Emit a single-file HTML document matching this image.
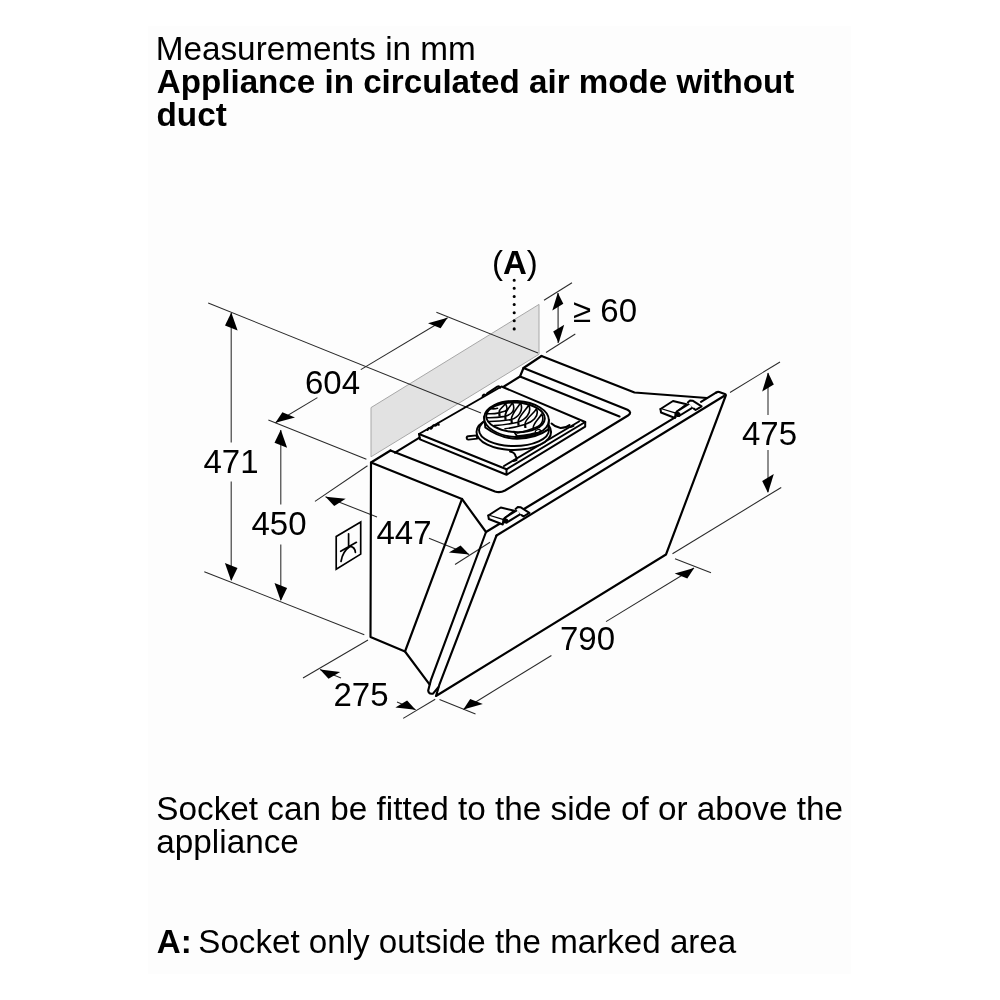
<!DOCTYPE html>
<html><head><meta charset="utf-8"><title>Measurements</title>
<style>
html,body{margin:0;padding:0;background:#fff;}
body{width:1000px;height:1000px;overflow:hidden;font-family:"Liberation Sans",sans-serif;}
svg{display:block;position:absolute;left:0;top:0;}
text{font-family:"Liberation Sans",sans-serif;fill:#000;}
.h{font-size:33.3px;}
.d{font-size:33px;}
.b{font-weight:bold;}
.t{stroke:#2a2a2a;stroke-width:1.05;fill:none;}
.t2{stroke:#444;stroke-width:1.3;fill:none;}
path.b{stroke:#000;stroke-width:2.15;fill:none;stroke-linejoin:round;stroke-linecap:round;}
.m{stroke:#000;stroke-width:2;fill:none;stroke-linejoin:round;stroke-linecap:round;}
.f{stroke:#000;stroke-width:1.95;fill:none;stroke-linejoin:round;stroke-linecap:round;}
.w{fill:#fdfdfd !important;}
.g{stroke:#000;stroke-width:1.6;fill:none;stroke-linecap:round;}
.s{stroke:#000;stroke-width:1.7;fill:none;stroke-linejoin:miter;stroke-linecap:round;}
</style></head><body>
<svg width="1000" height="1000" viewBox="0 0 1000 1000">
<defs><filter id="idf" x="0" y="0" width="1000" height="1000" filterUnits="userSpaceOnUse"><feOffset dx="0" dy="0"/></filter></defs>
<rect x="0" y="0" width="1000" height="1000" fill="#fff"/>
<rect x="148" y="26" width="703" height="948" fill="#fdfdfd"/>
<polygon points="371,407.6 539,304.4 539,354.3 371,456.8" fill="#e2e2e2" stroke="#a8a8a8" stroke-width="1"/>
<line class="t" x1="208.2" y1="303.0" x2="481.0" y2="413.0"/>
<line class="t" x1="231.2" y1="313.0" x2="231.2" y2="442.5"/>
<line class="t" x1="231.2" y1="481.5" x2="231.2" y2="580.0"/>
<polygon points="231.3,312.5 237.6,330.5 225.0,325.5" fill="#000"/>
<polygon points="231.2,581.0 237.5,568.0 224.9,563.0" fill="#000"/>
<line class="t" x1="204.3" y1="571.7" x2="364.3" y2="634.7"/>
<line class="t" x1="268.4" y1="420.0" x2="366.4" y2="459.2"/>
<line class="t" x1="280.8" y1="430.0" x2="280.8" y2="504.5"/>
<line class="t" x1="280.8" y1="544.5" x2="280.8" y2="600.0"/>
<polygon points="280.8,429.8 287.1,447.8 274.5,442.8" fill="#000"/>
<polygon points="280.8,601.0 287.1,588.0 274.5,583.0" fill="#000"/>
<line class="t" x1="436.4" y1="312.2" x2="538.0" y2="353.0"/>
<line class="t" x1="447.6" y1="317.8" x2="360.8" y2="369.6"/>
<line class="t" x1="317.4" y1="397.6" x2="275.4" y2="422.8"/>
<polygon points="447.6,317.8 440.6,328.3 428.0,323.2" fill="#000"/>
<polygon points="275.4,422.8 295.0,417.4 282.4,412.3" fill="#000"/>
<line class="t" x1="544.0" y1="300.3" x2="572.0" y2="282.7"/>
<line class="t" x1="546.0" y1="352.5" x2="575.3" y2="334.0"/>
<line class="t2" x1="558.1" y1="293.0" x2="558.1" y2="343.0"/>
<polygon points="557.8,292.8 563.3,303.8 552.3,310.4" fill="#000"/>
<polygon points="558.7,343.0 564.2,324.8 553.2,331.4" fill="#000"/>
<line class="t" x1="730.0" y1="392.5" x2="780.0" y2="362.0"/>
<line class="t" x1="672.5" y1="553.7" x2="781.2" y2="487.5"/>
<line class="t" x1="768.0" y1="373.0" x2="768.0" y2="415.0"/>
<line class="t" x1="768.0" y1="450.0" x2="768.0" y2="492.0"/>
<polygon points="768.0,372.5 773.8,384.5 762.2,391.5" fill="#000"/>
<polygon points="768.0,493.0 773.8,474.0 762.2,481.0" fill="#000"/>
<line class="t" x1="439.5" y1="699.5" x2="475.5" y2="714.0"/>
<line class="t" x1="675.0" y1="558.7" x2="711.0" y2="572.8"/>
<line class="t" x1="463.5" y1="709.5" x2="551.4" y2="655.5"/>
<line class="t" x1="606.0" y1="621.6" x2="694.0" y2="568.0"/>
<polygon points="463.3,709.6 482.8,704.0 470.2,699.0" fill="#000"/>
<polygon points="694.2,568.0 687.3,578.6 674.7,573.6" fill="#000"/>
<line class="t" x1="303.0" y1="678.0" x2="368.0" y2="640.0"/>
<line class="t" x1="403.2" y1="718.4" x2="435.2" y2="699.2"/>
<line class="t" x1="320.0" y1="669.6" x2="341.0" y2="678.0"/>
<line class="t" x1="397.0" y1="702.0" x2="415.6" y2="709.8"/>
<polygon points="320.0,669.6 340.2,671.9 328.5,678.8" fill="#000"/>
<polygon points="415.6,709.8 407.1,700.6 395.4,707.5" fill="#000"/>
<line class="t" x1="315.0" y1="501.4" x2="367.5" y2="465.7"/>
<line class="t" x1="455.0" y1="564.5" x2="490.0" y2="542.3"/>
<line class="t" x1="325.5" y1="496.8" x2="377.0" y2="517.0"/>
<line class="t" x1="429.0" y1="538.3" x2="469.2" y2="554.6"/>
<polygon points="325.5,496.8 345.7,498.8 334.2,506.1" fill="#000"/>
<polygon points="469.2,554.6 460.6,545.5 448.9,552.5" fill="#000"/>
<path class="b" d="M390.5,450.5 L371,462.5 L370.5,637 L405,651.5 L429.5,684.4"/>
<path class="b" d="M371,462.5 L462,499 L405,651.5"/>
<path class="b" d="M462,499 L486,532"/>
<path class="b" d="M486,532 L430.8,680.4 L428.2,690.5 Q428.4,693.6 431.5,693.8 L433,693.6 L438.2,687.5"/>
<path class="b" d="M496.5,535.5 L439.2,685.2 L436,696 L666,554.5 L725.6,396 Q726.4,394.6 724.8,394 L719.2,392 Q717.6,391.6 716,392.6"/>
<path class="b" d="M486,532 L500,523.5 M524,509 L675.5,417.2 M701,401.8 L716,392.6"/>
<path class="b" d="M496.5,535.5 L724,396"/>
<path class="b" d="M541.5,356 L634.5,392.5 L707,398"/>
<path class="b" d="M390.5,450.5 L495,491.5 Q500,493.2 505,490.5 L628,415.5 Q632.5,412.5 627.5,409.7 L523.5,368"/>
<path class="b" d="M395,452.6 L419.5,437.6"/>
<path class="b" d="M541.5,356 L523.5,368 L520,376.5 L504,386.5"/>
<path class="b" d="M520,376.5 L619.5,416.5"/>
<path class="m" d="M419,434 L501.5,386.5 L585.2,422 L506.5,469.3 Z"/>
<path class="m" d="M419,434 L420,439.4 L506.5,474.8 L585.2,426.6 L585.2,422 M506.5,469.3 L506.5,474.8"/>
<path class="f" d="M504,466 L579,421.5"/>
<path class="f" d="M513.5,461 L516.5,460 M570.5,427 L573.5,425.8"/>
<path class="f" d="M510,451.5 Q515,452.5 515.5,456 L517,458.5"/>
<path class="f" d="M551.5,423.5 Q555,427 560.5,428 Q566,428 569.5,425"/>
<path class="m" d="M427.6,430 q0.8,-2.6 2.4,-1.6 q1.2,1.2 2.4,-1.4 q0.8,-2.4 2.4,-1.4 q1.2,0.8 3.4,-2.4 l0.6,1.6"/>
<path class="m" d="M482.6,396.4 q0.8,-2.6 2.2,-1.6 q1.2,1 2.4,-1.4 L497.4,386.6 q1.8,-0.8 2.8,1.2"/>
<ellipse class="f w" cx="513.8" cy="432" rx="37.3" ry="18"/>
<ellipse class="f" cx="514" cy="430" rx="35" ry="16"/>
<path class="f w" d="M484.2,416.5 L485.3,427.5 Q500,438.4 517,438.8 Q536,438.4 548.4,429.4 L548.8,420 Z"/>
<ellipse class="f w" cx="516.5" cy="419" rx="32.4" ry="18" transform="rotate(3 516.5 419)"/>
<ellipse class="f" cx="515.5" cy="417.3" rx="29.3" ry="14.8" transform="rotate(3 515.5 417.3)"/>
<path class="g" d="M489.9,408.5 Q493.7,409.4 497.5,408.2 M486.8,413.6 Q492.9,414.2 499.0,412.9 M499.0,412.9 C506.0,410.7 509.0,411.4 505.5,403.4 M499.0,412.9 C499.5,406.9 502.0,409.4 505.5,403.4 M486.5,417.7 Q495.8,418.0 505.0,416.4 M505.0,416.4 C512.0,414.2 516.0,410.6 512.5,402.6 M505.0,416.4 C505.5,410.4 509.0,408.6 512.5,402.6 M488.4,421.5 Q499.8,421.6 511.2,419.6 M511.2,419.6 C518.2,417.4 524.0,410.8 520.5,402.8 M511.2,419.6 C511.7,413.6 517.0,408.8 520.5,402.8 M494.4,425.6 Q506.2,424.9 518.0,422.2 M518.0,422.2 C525.0,420.0 532.3,413.0 528.8,405.0 M518.0,422.2 C518.5,416.2 525.3,411.0 528.8,405.0 M505.0,428.7 Q514.9,427.6 524.8,424.5 M524.8,424.5 C531.8,422.3 539.9,416.8 536.4,408.8 M524.8,424.5 C525.3,418.5 532.9,414.8 536.4,408.8 M517.3,433.0 Q525.1,431.8 533.0,428.5 M533.0,428.5 C540.0,426.3 545.2,422.0 541.7,414.0 M533.0,428.5 C533.5,422.5 538.2,420.0 541.7,414.0"/>
<path d="M499.3,413.2 l0.3,3.2 M505.3,416.7 l0.3,3.2 M511.5,419.9 l0.3,3.2 M518.3,422.5 l0.3,3.2 M525.1,424.8 l0.3,3.2" stroke="#000" stroke-width="2.2" fill="none"/>
<path class="f" d="M514.2,431.7 L517.2,436.6"/>
<path class="m" d="M517.2,436.2 Q531,435.5 541,431"/>
<ellipse cx="537.8" cy="431" rx="2.6" ry="1.3" fill="#fdfdfd" stroke="#000" stroke-width="1.2" transform="rotate(-22 537.8 431)"/>
<path class="f w" d="M468.2,436.2 L476.5,435.4 L477.3,438.6 L468.6,439.6 A1.7,1.7 0 0 1 468.2,436.2 Z"/>
<path class="m w" d="M660.5,409.0 l12.5,-8 l13.5,3.2 l-11.5,9 Z"/>
<path class="m w" d="M660.5,409.0 l0.5,3.5 l14,5.5 l0.5,-4.3"/>
<path class="m w" d="M677.0,411.3 l13.5,-8.3 l2.5,4.3 l-14,8.7 Z"/>
<circle cx="678.0" cy="414.5" r="2.6" fill="#000"/>
<path class="m w" d="M687.8,402.4 l2.2,-1.9 l2.6,0.2 l9,5.6 l-6,3.7 l-1.8,-1.4"/>
<path class="m w" d="M488.3,515.5 l12.5,-8 l13.5,3.2 l-11.5,9 Z"/>
<path class="m w" d="M488.3,515.5 l0.5,3.5 l14,5.5 l0.5,-4.3"/>
<path class="m w" d="M504.8,517.8 l13.5,-8.3 l2.5,4.3 l-14,8.7 Z"/>
<circle cx="505.8" cy="521.0" r="2.6" fill="#000"/>
<path class="m w" d="M515.6,508.9 l2.2,-1.9 l2.6,0.2 l9,5.6 l-6,3.7 l-1.8,-1.4"/>
<path class="s" d="M336.2,536.6 L360.7,521.9 L360.7,554.1 L336.2,569.2 Z"/>
<path class="s" d="M348.6,533.8 L348.6,545.7 M340.7,551.3 L356.4,542.3"/>
<path class="s" d="M341,561.5 Q342.5,551.5 350.2,546.3 Q355,547 355.4,552.4"/>
<line x1="514.2" y1="280.2" x2="514.2" y2="329.5" stroke="#000" stroke-width="3.1" stroke-linecap="round" stroke-dasharray="0 8.12"/>
<g filter="url(#idf)">
<text x="155.7" y="59.7" class="h">Measurements in mm</text>
<text x="156.8" y="93" class="h b" style="font-size:33.17px">Appliance in circulated air mode without</text>
<text x="156.5" y="126.3" class="h b">duct</text>
<text x="156.3" y="820" class="h">Socket can be fitted to the side of or above the</text>
<text x="156.3" y="853.4" class="h">appliance</text>
<text x="156.8" y="953.3" class="h" style="font-size:33.15px"><tspan class="b">A:</tspan><tspan dx="-2.7"> Socket only outside the marked area</tspan></text>
<text x="203.5" y="473.2" class="d">471</text>
<text x="251.5" y="535.2" class="d">450</text>
<text x="305" y="393.6" class="d">604</text>
<text x="376.5" y="543.8" class="d">447</text>
<text x="333.5" y="706.3" class="d">275</text>
<text x="560" y="649.7" class="d">790</text>
<text x="742" y="445.2" class="d">475</text>
<text x="573" y="322.2" class="d">≥ 60</text>
<text x="492" y="274.3" class="d">(<tspan class="b">A</tspan>)</text>
</g>

</svg>
</body></html>
